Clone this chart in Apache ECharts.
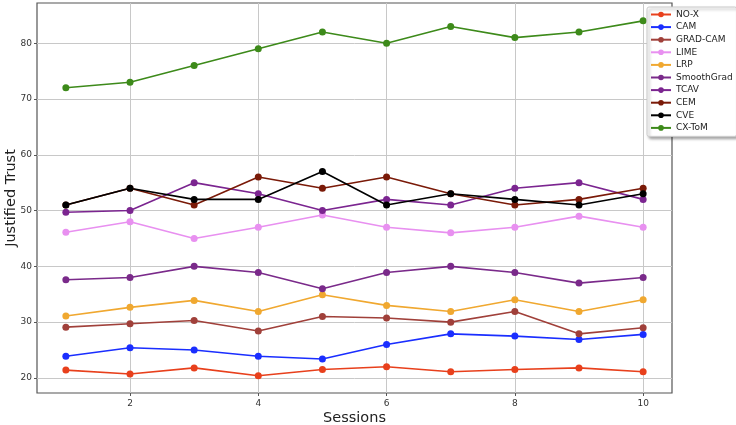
<!DOCTYPE html>
<html><head><meta charset="utf-8">
<script src="https://cdn.jsdelivr.net/npm/echarts@6/dist/echarts.min.js"></script>
<style>html,body{margin:0;padding:0;background:#fff}#c{width:736px;height:425px}</style>
</head><body><div id="c"></div>
<script>
const sessions = [1,2,3,4,5,6,7,8,9,10];
const xTicks = [2,4,6,8,10];
const yTicks = [20,30,40,50,60,70,80];
const names = ['NO-X','CAM','GRAD-CAM','LIME','LRP','SmoothGrad','TCAV','CEM','CVE','CX-ToM'];
const noX =       [21.4,20.7,21.8,20.4,21.5,22.0,21.1,21.5,21.8,21.1];
const cam =       [23.9,25.4,25.0,23.9,23.4,26.0,27.9,27.5,26.9,27.8];
const gradCam =   [29.1,29.7,30.3,28.4,31.0,30.75,30.0,31.9,27.9,29.0];
const lime =      [46.1,48.0,45.0,47.0,49.2,47.0,46.0,47.0,49.0,47.0];
const lrp =       [31.1,32.65,33.9,31.9,34.9,33.0,31.9,34.0,31.9,34.0];
const smoothGrad =[37.6,38.0,40.0,38.9,36.0,38.9,40.0,38.9,37.0,38.0];
const tcav =      [49.7,50.0,55.0,53.0,50.0,52.0,51.0,54.0,55.0,52.0];
const cem =       [51.0,54.0,51.0,56.0,54.0,56.0,53.0,51.0,52.0,54.0];
const cve =       [51.0,54.0,52.0,52.0,57.0,51.0,53.0,52.0,51.0,53.0];
const cxtom =     [72,73,76,79,82,80,83,81,82,84];
const allData = [noX,cam,gradCam,lime,lrp,smoothGrad,tcav,cem,cve,cxtom];
const colors = ['#e8401c','#1a2eff','#a0403a','#e890f0','#f0a830','#7a2a8a','#7b2590','#7a1a08','#000000','#3d8a1a'];

const chart = echarts.init(document.getElementById('c'));
chart.setOption({
  animation:false,
  color: colors,
  grid:{left:37,right:64,top:3,bottom:32,outerBoundsMode:'none',containLabel:false,show:true,borderColor:'#555',borderWidth:1.2,backgroundColor:'#fff'},
  xAxis:{type:'value',min:0.55,max:10.45,
    name:'Sessions',nameLocation:'middle',nameGap:18,nameMoveOverlap:false,
    nameTextStyle:{fontSize:14.5,color:'#222',fontFamily:'DejaVu Sans'},
    axisLine:{show:false},
    axisTick:{show:true,customValues:xTicks,length:3,lineStyle:{color:'#555'}},
    axisLabel:{customValues:xTicks,fontSize:9,color:'#333',fontFamily:'DejaVu Sans',margin:6},
    splitLine:{show:true,lineStyle:{color:'#c8c8c8',width:1}}},
  yAxis:{type:'value',min:17.3,max:87.2,
    name:'Justified Trust',nameLocation:'middle',nameGap:18,nameMoveOverlap:false,
    nameTextStyle:{fontSize:14.5,color:'#222',fontFamily:'DejaVu Sans'},
    axisLine:{show:false},
    axisTick:{show:true,customValues:yTicks,length:3,lineStyle:{color:'#555'}},
    axisLabel:{customValues:yTicks,fontSize:9,color:'#333',fontFamily:'DejaVu Sans',margin:5},
    splitLine:{show:true,lineStyle:{color:'#c8c8c8',width:1}}},
  legend:{orient:'vertical',left:647,top:7,itemWidth:20,itemHeight:7,itemGap:3.6,
    padding:[3,4,4,3],
    backgroundColor:'#fff',borderColor:'#ccc',borderWidth:1,borderRadius:2,
    shadowColor:'rgba(0,0,0,0.35)',shadowBlur:3,shadowOffsetX:2,shadowOffsetY:2,
    textStyle:{fontSize:9,lineHeight:9,color:'#222',fontFamily:'DejaVu Sans'},
    data:names},
  series: names.map((n,i)=>({
    name:n,type:'line',
    data: sessions.map((s,j)=>[s,allData[i][j]]),
    symbol:'circle',symbolSize:7,
    lineStyle:{width:1.6,color:colors[i]},
    itemStyle:{color:colors[i]}
  }))
});
</script></body></html>
